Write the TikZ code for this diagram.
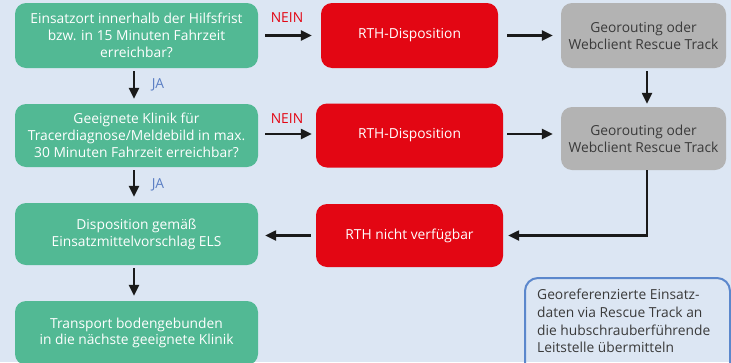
\documentclass[tikz,border=0pt]{standalone}
\usepackage{fontspec}
\setmainfont{Open Sans}
\usetikzlibrary{arrows.meta,calc}
\definecolor{bgc}{HTML}{DCE6F3}
\definecolor{grn}{HTML}{52B994}
\definecolor{rd}{HTML}{E30613}
\definecolor{gry}{HTML}{B3B3B3}
\definecolor{bluel}{HTML}{5B87CC}
\definecolor{jac}{HTML}{5B7FC4}
\definecolor{arr}{HTML}{1A1A1A}
\definecolor{dtxt}{HTML}{3A3A3A}
\tikzset{
  box/.style={rectangle, rounded corners=11pt, align=center, inner sep=0pt,
    font=\fontsize{13.8}{16.8}\selectfont},
  gbox/.style={box, fill=grn, text=white},
  rbox/.style={box, fill=rd, text=white},
  grbox/.style={box, fill=gry, text=dtxt},
  conn/.style={draw=arr, line width=2.3pt, -{Triangle[length=11pt,width=10pt]}},
  nein/.style={text=rd, font=\fontsize{13.8}{15}\selectfont},
  ja/.style={text=jac, font=\fontsize{13.8}{15}\selectfont},
}
\begin{document}
\begin{tikzpicture}[x=1pt,y=-1pt]
\useasboundingbox (0,0) rectangle (731,362);
\clip (0,0) rectangle (731,362);
\fill[bgc] (0,0) rectangle (731,362);

\node[gbox, minimum width=243pt, minimum height=65pt] (g1) at (136.5,35.5)
  {Einsatzort innerhalb der Hilfsfrist\\bzw. in 15 Minuten Fahrzeit\\erreichbar?};
\node[gbox, minimum width=243pt, minimum height=63pt] (g2) at (136.5,135.5)
  {Geeignete Klinik für\\Tracerdiagnose/Meldebild in max.\\30 Minuten Fahrzeit erreichbar?};
\node[gbox, minimum width=243pt, minimum height=62pt] (g3) at (136.5,234)
  {Disposition gemäß\\Einsatzmittelvorschlag ELS};
\node[gbox, minimum width=243pt, minimum height=64pt] (g4) at (136.5,333)
  {Transport bodengebunden\\in die nächste geeignete Klinik};

\node[rbox, minimum width=177pt, minimum height=65pt] (r1) at (409.5,35.5) {RTH-Disposition};
\node[rbox, minimum width=187pt, minimum height=64pt] (r2) at (409.5,135.5) {RTH-Disposition};
\node[rbox, minimum width=187pt, minimum height=63pt] (r3) at (409.5,235.5) {RTH nicht verfügbar};

\node[grbox, minimum width=165pt, minimum height=65pt] (s1) at (643.5,35.5)
  {Georouting oder\\Webclient Rescue Track};
\node[grbox, minimum width=165pt, minimum height=63pt] (s2) at (643.5,138.5)
  {Georouting oder\\Webclient Rescue Track};

\node[rectangle, rounded corners=13pt, draw=bluel, line width=2pt,
  minimum width=205pt, minimum height=110pt, anchor=north west] (b) at (524,277) {};
\node[anchor=north west, align=left, text=dtxt, inner sep=0pt,
  font=\fontsize{13.8}{17.7}\selectfont] (bt) at (537,289)
  {Georeferenzierte Einsatz-\\daten via Rescue Track an\\die hubschrauberführende\\Leitstelle übermitteln};

\draw[conn, shorten <=7pt, shorten >=9pt] (g1.east) -- (r1.west);
\draw[conn, shorten <=7pt, shorten >=4pt] ([yshift=1.5pt]g2.east) -- ([yshift=1.5pt]r2.west);
\draw[conn, shorten <=9pt, shorten >=8pt] (r1.east) -- (s1.west);
\draw[conn, shorten <=4pt, shorten >=8pt] ([yshift=1.5pt]r2.east) -- ([yshift=1.5pt]r2.east -| s2.west);
\draw[conn, shorten <=3pt, shorten >=3pt] ([xshift=3.5pt]s1.south) -- ([xshift=3.5pt]s2.north);
\draw[conn, shorten >=5pt] ([xshift=3.5pt]s2.south) |- (r3.east);
\draw[conn, shorten <=5pt, shorten >=7pt] (r3.west) -- (r3.west -| g3.east);
\draw[conn, shorten <=3pt, shorten >=5pt] ([xshift=-2.5pt]g1.south) -- ([xshift=-2.5pt]g2.north);
\draw[conn, shorten <=3pt, shorten >=6pt] ([xshift=-2.5pt]g2.south) -- ([xshift=-2.5pt]g3.north);
\draw[conn, shorten <=3pt, shorten >=5pt] ([xshift=-2.5pt]g3.south) -- ([xshift=-2.5pt]g4.north);

\node[nein] (n1) at (287,18) {NEIN};
\node[nein] (n2) at (287,119) {NEIN};
\node[ja] (j1) at (158,85) {JA};
\node[ja] (j2) at (158,185) {JA};
\end{tikzpicture}
\end{document}
